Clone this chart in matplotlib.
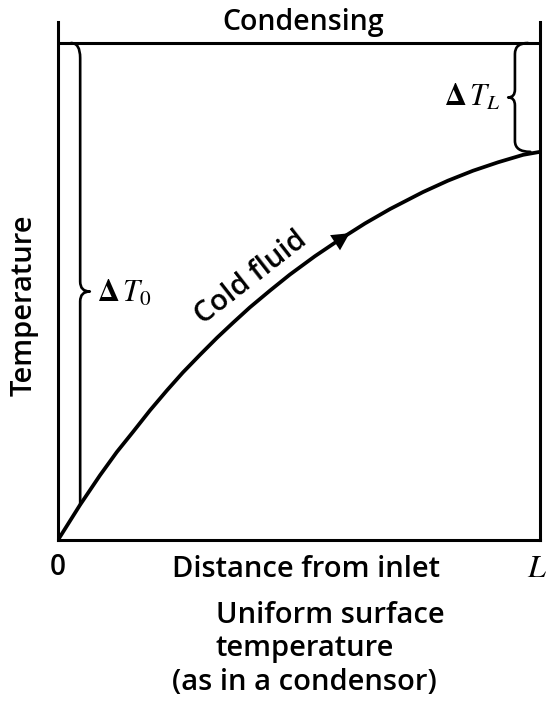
import numpy as np
import matplotlib
matplotlib.use("Agg")
import matplotlib.pyplot as plt
from matplotlib.path import Path
from matplotlib.patches import PathPatch

# ---- data (x = distance / L, y = (T - T_in) / (T_s - T_in)) ----
x_pos = [0.0, 0.046, 0.087, 0.122, 0.156, 0.191, 0.226, 0.259, 0.295, 0.330, 0.363, 0.398,
         0.440, 0.481, 0.533, 0.585, 0.637, 0.689, 0.757, 0.809, 0.861, 0.913, 0.965, 1.0]
temp = [0.0, 0.071, 0.130, 0.177, 0.218, 0.261, 0.301, 0.337, 0.373, 0.407, 0.437, 0.468,
        0.502, 0.534, 0.571, 0.605, 0.637, 0.666, 0.700, 0.723, 0.743, 0.760, 0.775, 0.781]
inlet_temp = 0.0
surface_temp = 1.0
arrow_at = 0.605

plt.rcParams['font.family'] = ['Open Sans', 'DejaVu Sans']
plt.rcParams['mathtext.fontset'] = 'stix'
FW = 'semibold'

W, H = 547, 704
fig = plt.figure(figsize=(W / 100, H / 100), dpi=100)
ax = fig.add_axes([58 / W, (H - 540) / H, 482 / W, 518 / H])
ax.set_xlim(0, 1)
ax.set_ylim(0, 518 / 497)
ax.set_xticks([])
ax.set_yticks([])
ax.spines['top'].set_visible(False)
for s in ['left', 'right', 'bottom']:
    ax.spines[s].set_linewidth(2.2)

# condensing (uniform surface) temperature
ax.axhline(surface_temp, color='black', lw=2.2)

# cold fluid curve
ax.plot(x_pos, temp, color='black', lw=2.7, solid_capstyle='round', solid_joinstyle='round')

# arrow on the curve
xa0 = arrow_at - 0.04
ax.annotate('', xy=(arrow_at, np.interp(arrow_at, x_pos, temp)),
            xytext=(xa0, np.interp(xa0, x_pos, temp)),
            arrowprops=dict(arrowstyle='-|>,head_length=0.5,head_width=0.26', mutation_scale=25,
                            color='black', lw=0.01, shrinkA=0, shrinkB=0))


def brace(ax, x0, y0, y1, ym, tip, hook_top=None, hook_bot=None, h=0.025, th=0.02):
    """vertical curly brace at x0 from y0 to y1, tip at (tip, ym)"""
    verts, codes = [], []
    if hook_top is not None:
        verts += [(hook_top, y1), (x0, y1), (x0, y1 - h)]
        codes += [Path.MOVETO, Path.CURVE3, Path.CURVE3]
    else:
        verts += [(x0, y1)]
        codes += [Path.MOVETO]
    verts += [(x0, ym + th), (x0, ym), (tip, ym), (x0, ym), (x0, ym - th)]
    codes += [Path.LINETO, Path.CURVE3, Path.CURVE3, Path.CURVE3, Path.CURVE3]
    if hook_bot is not None:
        verts += [(x0, y0 + h), (x0, y0), (hook_bot, y0)]
        codes += [Path.LINETO, Path.CURVE3, Path.CURVE3]
    else:
        verts += [(x0, y0)]
        codes += [Path.LINETO]
    ax.add_patch(PathPatch(Path(verts, codes), fill=False, lw=1.9, color='black',
                           capstyle='round', joinstyle='round', clip_on=False))


# Delta T_0 brace (inlet temperature to surface temperature)
mid0 = 0.5 * (inlet_temp + surface_temp)
bx0 = x_pos[1]
brace(ax, bx0, temp[1], surface_temp, mid0, bx0 + 0.02, hook_top=0.027, h=0.03)
ax.text(0.080, mid0 - 0.004, r'$\mathbf{\Delta}\, T_0$', fontsize=22, ha='left', va='center')

# Delta T_L brace
midL = 0.5 * (temp[-1] + surface_temp)
brace(ax, 0.948, temp[-1], surface_temp, midL, 0.934, hook_top=0.975, hook_bot=0.980,
      h=0.022, th=0.016)
ax.text(0.918, midL, r'$\mathbf{\Delta}\, T_L$', fontsize=22, ha='right', va='center')

# texts
ax.text(0.508, 1.026, 'Condensing', fontsize=20.5, fontweight=FW, ha='center', va='baseline',
        clip_on=False)
ax.text(0.0, -0.070, '0', fontsize=20, fontweight=FW, ha='center', va='baseline', clip_on=False)
ax.text(0.515, -0.074, 'Distance from inlet', fontsize=21, fontweight=FW, ha='center',
        va='baseline', clip_on=False)
ax.text(0.994, -0.074, r'$L$', fontsize=23, ha='center', va='baseline', clip_on=False)
ax.text((216 - 58) / 482, -0.167, 'Uniform surface', fontsize=21, fontweight=FW, ha='left',
        va='baseline', clip_on=False)
ax.text((216 - 58) / 482, -0.233, 'temperature', fontsize=21, fontweight=FW, ha='left',
        va='baseline', clip_on=False)
ax.text((304 - 58) / 482, -0.302, '(as in a condensor)', fontsize=21, fontweight=FW,
        ha='center', va='baseline', clip_on=False)

fig.text(24 / W, 1 - 305 / H, 'Temperature', fontsize=21, fontweight=FW, rotation=90,
         ha='center', va='center')

ax.text(0.410, 0.516, 'Cold fluid', fontsize=21, fontweight=FW, rotation=38,
        rotation_mode='anchor', ha='center', va='baseline')

fig.savefig('out.png', dpi=100)
